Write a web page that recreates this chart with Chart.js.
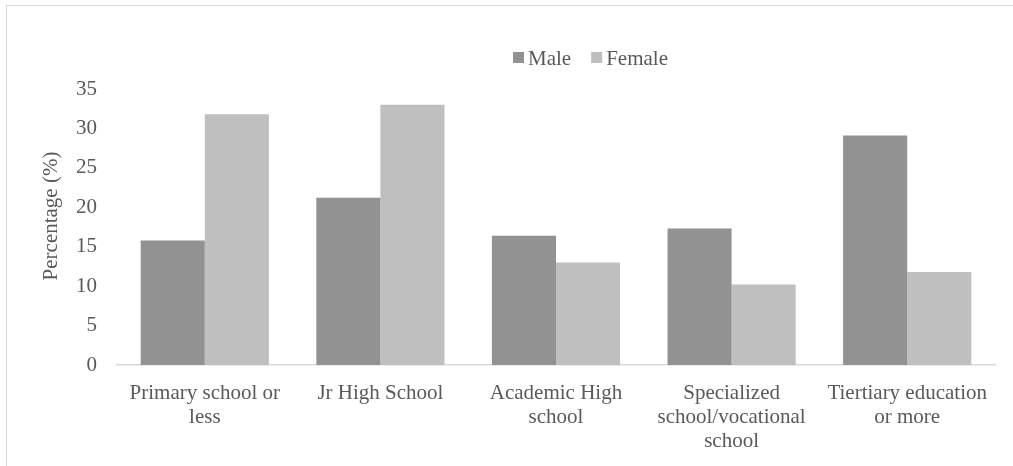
<!DOCTYPE html>
<html>
<head>
<meta charset="utf-8">
<script src="https://cdn.jsdelivr.net/npm/chart.js@4.4.1/dist/chart.umd.min.js"></script>
<style>
  html, body { margin: 0; padding: 0; background: #fff; }
  body { width: 1013px; height: 466px; overflow: hidden; position: relative; }
  .frame {
    position: absolute; left: 6px; top: 5px; width: 1100px; height: 600px;
    border-left: 1.5px solid #d9d9d9; border-top: 1.5px solid #d9d9d9;
  }
  #wrap { position: absolute; left: 0; top: 0; width: 1013px; height: 466px; }
</style>
</head>
<body>
<div class="frame"></div>
<div id="wrap"><canvas id="c"></canvas></div>
<script>
// Education level by sex (%)
const categories = [
  ['Primary school or', 'less'],
  ['Jr High School'],
  ['Academic High', 'school'],
  ['Specialized', 'school/vocational', 'school'],
  ['Tiertiary education', 'or more']
];
const maleValues = [15.8, 21.2, 16.4, 17.3, 29.1];
const femaleValues = [31.8, 33.0, 13.0, 10.2, 11.8];
const seriesNames = ['Male', 'Female'];
const yTicks = [0, 5, 10, 15, 20, 25, 30, 35];
const yTitle = 'Percentage (%)';

const textColor = '#595959';
const serif = "'Liberation Serif', 'Times New Roman', serif";

// Legend drawn above the plot, keyed to the dataset colours
const topLegend = {
  id: 'topLegend',
  afterDraw(chart) {
    const ctx = chart.ctx;
    ctx.save();
    ctx.font = '21px ' + serif;
    ctx.textBaseline = 'alphabetic';
    ctx.textAlign = 'left';
    const baseline = 65, boxTop = 52, box = 11, gap = 4, spacing = 20;
    const items = chart.data.datasets.map(d => ({ label: d.label, color: d.backgroundColor }));
    const widths = items.map(it => box + gap + ctx.measureText(it.label).width);
    const total = widths.reduce((a, b) => a + b, 0) + spacing * (items.length - 1);
    let x = 590.5 - total / 2;
    items.forEach((it, i) => {
      ctx.fillStyle = it.color;
      ctx.fillRect(x, boxTop, box, box);
      ctx.fillStyle = textColor;
      ctx.fillText(it.label, x + box + gap, baseline);
      x += widths[i] + spacing;
    });
    ctx.restore();
  }
};

// Rotated value-axis title, set slightly above the plot's middle
const axisTitle = {
  id: 'axisTitle',
  afterDraw(chart) {
    const ctx = chart.ctx;
    ctx.save();
    ctx.font = '21px ' + serif;
    ctx.fillStyle = textColor;
    ctx.textAlign = 'center';
    ctx.textBaseline = 'alphabetic';
    ctx.translate(57, 216);
    ctx.rotate(-Math.PI / 2);
    ctx.fillText(yTitle, 0, 0);
    ctx.restore();
  }
};

new Chart(document.getElementById('c'), {
  type: 'bar',
  data: {
    labels: categories,
    datasets: [
      { label: seriesNames[0], data: maleValues, backgroundColor: '#929292' },
      { label: seriesNames[1], data: femaleValues, backgroundColor: '#bfbfbf' }
    ]
  },
  options: {
    responsive: true,
    maintainAspectRatio: false,
    animation: false,
    devicePixelRatio: 1,
    layout: { padding: { left: 0, right: 18, top: 89, bottom: 0 } },
    datasets: { bar: { categoryPercentage: 0.73, barPercentage: 1.0 } },
    plugins: { legend: { display: false }, tooltip: { enabled: false } },
    scales: {
      x: {
        grid: { display: false, drawTicks: false },
        border: { color: '#d9d9d9', width: 1.5 },
        ticks: {
          color: textColor,
          font: { family: serif, size: 21, lineHeight: 1.143 },
          padding: 16,
          maxRotation: 0,
          autoSkip: false
        },
        afterFit(scale) { scale.height = 101; }
      },
      y: {
        min: 0, max: 35,
        afterBuildTicks(scale) { scale.ticks = yTicks.map(v => ({ value: v })); },
        grid: { display: false, drawTicks: false },
        border: { display: false },
        ticks: {
          color: textColor,
          font: { family: serif, size: 21 },
          padding: 20
        },
        afterFit(scale) { scale.width = 117; }
      }
    }
  },
  plugins: [topLegend, axisTitle]
});
</script>
</body>
</html>
